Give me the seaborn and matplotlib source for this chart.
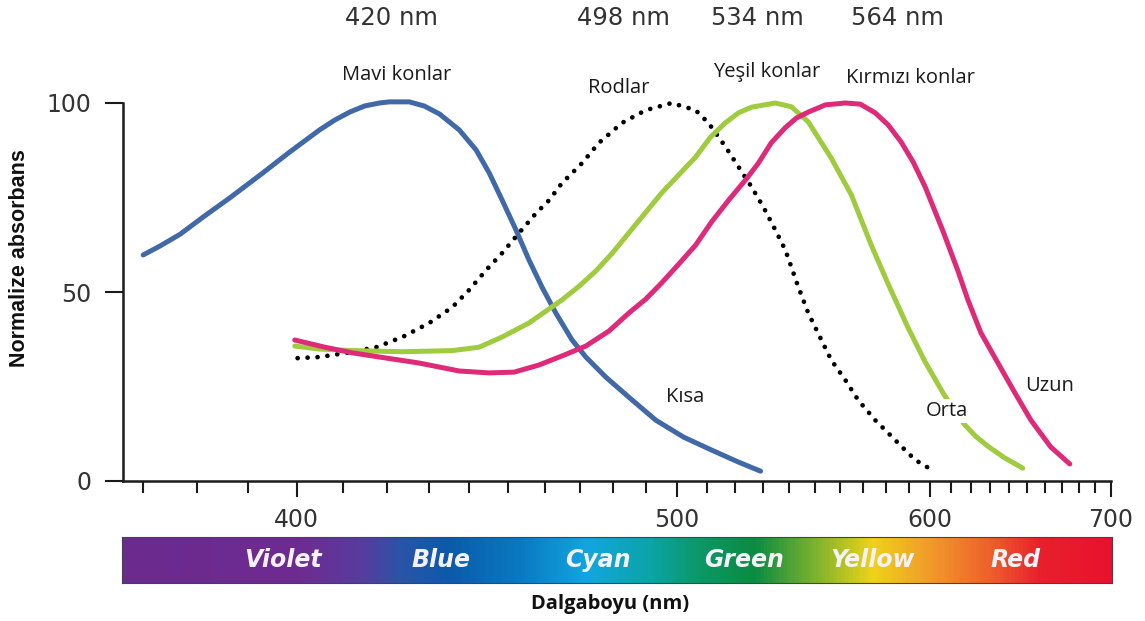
import numpy as np
import pandas as pd
import matplotlib
matplotlib.use("Agg")
import matplotlib.pyplot as plt
from matplotlib.colors import LinearSegmentedColormap
import seaborn as sns

# ---------------------------------------------------------------
# Data (wavelength in nm, normalised absorbance)
# ---------------------------------------------------------------
blue_nm = [370.1, 373.2, 376.9, 381.2, 386.4, 393.0, 398.5, 404.9, 408.2, 411.5,
           414.8, 418.2, 420.5, 425.2, 428.8, 432.5, 437.4, 441.7, 445.1, 448.5,
           452.2, 455.7, 459.3, 463.2, 467.8, 471.8, 477.7, 484.7, 493.2, 502.3,
           511.7, 521.2, 529.2]
blue_abs = [59.8, 62.2, 65.3, 69.8, 74.9, 81.5, 87.0, 92.9, 95.5, 97.6,
            99.2, 100, 100.3, 100.3, 99.2, 97.1, 92.9, 87.6, 81.5, 74.3,
            66.4, 58.5, 51.3, 44.4, 37.3, 32.8, 27.5, 22.2, 16.1, 11.6,
            8.2, 5.0, 2.6]

rod_nm = [400.2, 404.9, 410.8, 417.5, 423.6, 430.0, 435.7, 439.9, 444.3, 448.5,
          453.0, 457.7, 461.3, 464.9, 470.7, 475.6, 482.6, 490.0, 498.4, 506.3,
          510.7, 516.6, 521.2, 525.9, 530.3, 534.7, 538.5, 543.5, 547.4, 552.6,
          556.6, 562.4, 567.8, 575.1, 580.8, 588.4, 593.0, 602.4]
rod_abs = [32.5, 32.8, 33.9, 35.4, 38.1, 41.8, 46.0, 50.5, 55.8, 60.3,
           65.6, 70.9, 74.3, 78.8, 84.1, 89.4, 94.7, 98.1, 100, 98.1,
           94.7, 88.4, 83.1, 77.8, 72.4, 66.4, 61.1, 51.3, 44.4, 37.3,
           32.0, 26.7, 21.4, 16.1, 12.7, 8.2, 5.6, 2.4]

green_nm = [399.6, 404.9, 412.1, 423.6, 435.7, 442.5, 448.5, 455.7, 464.9, 469.8,
            474.8, 479.7, 484.7, 495.1, 506.3, 511.4, 516.6, 521.2, 525.9, 534.7,
            540.8, 547.4, 556.6, 564.9, 573.4, 580.8, 589.8, 597.7, 606.2, 612.0,
            617.0, 622.5, 628.7, 637.6, 647.4]
green_abs = [35.7, 34.9, 34.5, 34.2, 34.5, 35.4, 38.1, 41.8, 47.9, 51.5,
             55.6, 60.3, 65.6, 76.2, 85.7, 91.0, 94.8, 97.4, 98.9, 100,
             99.0, 95.0, 85.4, 75.7, 62.4, 52.1, 40.5, 31.5, 23.3, 18.5,
             14.8, 11.8, 9.2, 6.1, 3.4]

red_nm = [399.6, 406.0, 412.1, 418.2, 427.6, 437.4, 445.1, 451.7, 458.5, 465.5,
          471.8, 478.7, 484.7, 490.0, 495.1, 500.7, 506.3, 511.7, 517.7, 524.1,
          528.4, 533.2, 538.5, 542.7, 547.4, 554.2, 562.4, 568.7, 575.1, 580.8,
          586.6, 592.1, 597.7, 606.2, 613.5, 618.5, 625.1, 634.0, 643.1, 651.9,
          663.2, 674.4]
red_abs = [37.3, 35.4, 33.9, 32.8, 31.2, 29.1, 28.6, 28.8, 30.7, 33.3,
           35.7, 39.7, 44.4, 48.1, 52.4, 57.4, 62.4, 68.5, 74.3, 80.0,
           84.1, 89.5, 93.5, 96.0, 97.6, 99.5, 100, 99.7, 97.4, 94.2,
           89.7, 84.4, 77.8, 66.1, 55.6, 47.9, 39.2, 31.2, 23.3, 16.1,
           9.0, 4.5]

peak_labels = ["420 nm", "498 nm", "534 nm", "564 nm"]
y_ticks = [0, 50, 100]
x_major = [400, 500, 600, 700]
x_minor = [w for w in range(370, 700, 10) if w not in x_major]
band_names = ["Violet", "Blue", "Cyan", "Green", "Yellow", "Red"]

curves = pd.concat([
    pd.DataFrame({"nm": blue_nm, "abs": blue_abs, "curve": "Mavi"}),
    pd.DataFrame({"nm": rod_nm, "abs": rod_abs, "curve": "Rod"}),
    pd.DataFrame({"nm": green_nm, "abs": green_abs, "curve": "Yesil"}),
    pd.DataFrame({"nm": red_nm, "abs": red_abs, "curve": "Kirmizi"}),
], ignore_index=True)

W, H = 1145, 621


def fx(px):
    return px / W


def fy(py):
    return 1 - py / H


# x axis is drawn on a reciprocal (frequency-like) scale, as in the original
def fwd(x):
    with np.errstate(divide="ignore"):
        return -1000.0 / np.asarray(x, dtype=float)


def inv(y):
    with np.errstate(divide="ignore"):
        return -1000.0 / np.asarray(y, dtype=float)


sns.set_theme(style="ticks")
plt.rcParams['font.family'] = ['DejaVu Sans']

fig = plt.figure(figsize=(W / 100, H / 100), dpi=100)
ax = fig.add_axes([fx(123), fy(481), fx(1111) - fx(123), fy(103) - fy(481)])

styles = {
    "Mavi": dict(color="#4169A8"),
    "Yesil": dict(color="#9FCB3F"),
    "Kirmizi": dict(color="#DE2A78"),
    "Rod": dict(color="black", linestyle=(0, (0.01, 2.1)), dash_capstyle="round"),
}
for name in ["Mavi", "Rod", "Yesil", "Kirmizi"]:
    sub = curves[curves["curve"] == name]
    lw = 3.4 if name == "Rod" else 3.6
    sns.lineplot(data=sub, x="nm", y="abs", ax=ax, estimator=None, sort=False,
                 linewidth=lw, clip_on=False, solid_joinstyle="round",
                 **styles[name])

ax.set_xscale("function", functions=(fwd, inv))
ax.set_xlim(366.5, 700)
ax.set_ylim(0, 100)
ax.set_xticks(x_major)
ax.set_xticks(x_minor, minor=True)
ax.set_xticklabels([str(v) for v in x_major])
ax.set_yticks(y_ticks)
ax.set_yticklabels([str(v) for v in y_ticks])
ax.set_xlabel("")
ax.set_ylabel("")

ax.spines[["top", "right"]].set_visible(False)
for s in ["left", "bottom"]:
    ax.spines[s].set_linewidth(1.8)
    ax.spines[s].set_color("#1a1a1a")
ax.tick_params(axis="x", which="major", direction="out", length=11.5, width=1.5,
               color="#1a1a1a", pad=8, labelsize=17, labelcolor="#333333")
ax.tick_params(axis="x", which="minor", direction="out", length=8.5, width=1.5,
               color="#1a1a1a")
ax.tick_params(axis="y", which="major", direction="out", length=13, width=1.5,
               color="#1a1a1a", pad=10, labelsize=17, labelcolor="#333333")
ax.tick_params(axis="y", which="minor", length=0)

# peak wavelengths on top
for txt, px in zip(peak_labels, [391, 623, 757, 897]):
    fig.text(fx(px), fy(18), txt, ha="center", va="center", fontsize=17.5,
             color="#333333")

# curve labels
label_font = ["Open Sans", "DejaVu Sans"]
curve_labels = [("Mavi konlar", 397, 75), ("Rodlar", 619, 88),
                ("Yeşil konlar", 767, 72), ("Kırmızı konlar", 910, 78),
                ("Kısa", 685, 397), ("Uzun", 1050, 386)]
for txt, px, py in curve_labels:
    fig.text(fx(px), fy(py), txt, ha="center", va="center", fontsize=14.5,
             color="#1a1a1a", family=label_font)
fig.text(fx(947), fy(411), "Orta", ha="center", va="center", fontsize=14.5,
         color="#1a1a1a", family=label_font,
         bbox=dict(facecolor="white", edgecolor="none", pad=1.5))

fig.text(fx(20), fy(258), "Normalize absorbans", rotation=90, ha="center",
         va="center", fontsize=15.5, fontweight="bold", color="#111111",
         family=["Liberation Sans", "DejaVu Sans"])
fig.text(fx(610), fy(604), "Dalgaboyu (nm)", ha="center", va="center",
         fontsize=14.5, fontweight="bold", color="#111111", family=label_font)

# visible spectrum bar
sax = fig.add_axes([fx(122), fy(583), fx(1112) - fx(122), fy(537) - fy(583)])
spec = LinearSegmentedColormap.from_list("spec", [
    (0.00, "#6B2A8E"), (0.18, "#6E2C92"), (0.24, "#573C9E"), (0.28, "#2A54A8"),
    (0.33, "#0B5BAA"), (0.40, "#0A78C0"), (0.47, "#12A6E0"), (0.535, "#0BA4A6"),
    (0.585, "#0C9866"), (0.64, "#0B8B42"), (0.70, "#79B22E"), (0.76, "#EED318"),
    (0.82, "#F2982A"), (0.88, "#EE5E2B"), (0.93, "#E8202C"), (1.00, "#E8122E"),
])
sax.imshow(np.linspace(0, 1, 600)[None, :], aspect="auto", cmap=spec,
           extent=(0, 1, 0, 1))
sax.set_xlim(0, 1)
sax.set_ylim(0, 1)
sax.set_xticks([])
sax.set_yticks([])
for s in sax.spines.values():
    s.set_linewidth(0.8)
    s.set_color("#444444")
for txt, pos in zip(band_names, [0.163, 0.322, 0.481, 0.628, 0.758, 0.903]):
    sax.text(pos, 0.5, txt, ha="center", va="center", fontsize=17,
             fontweight="bold", fontstyle="italic", color="#F4F2F8")

fig.savefig("out.png", dpi=100)
